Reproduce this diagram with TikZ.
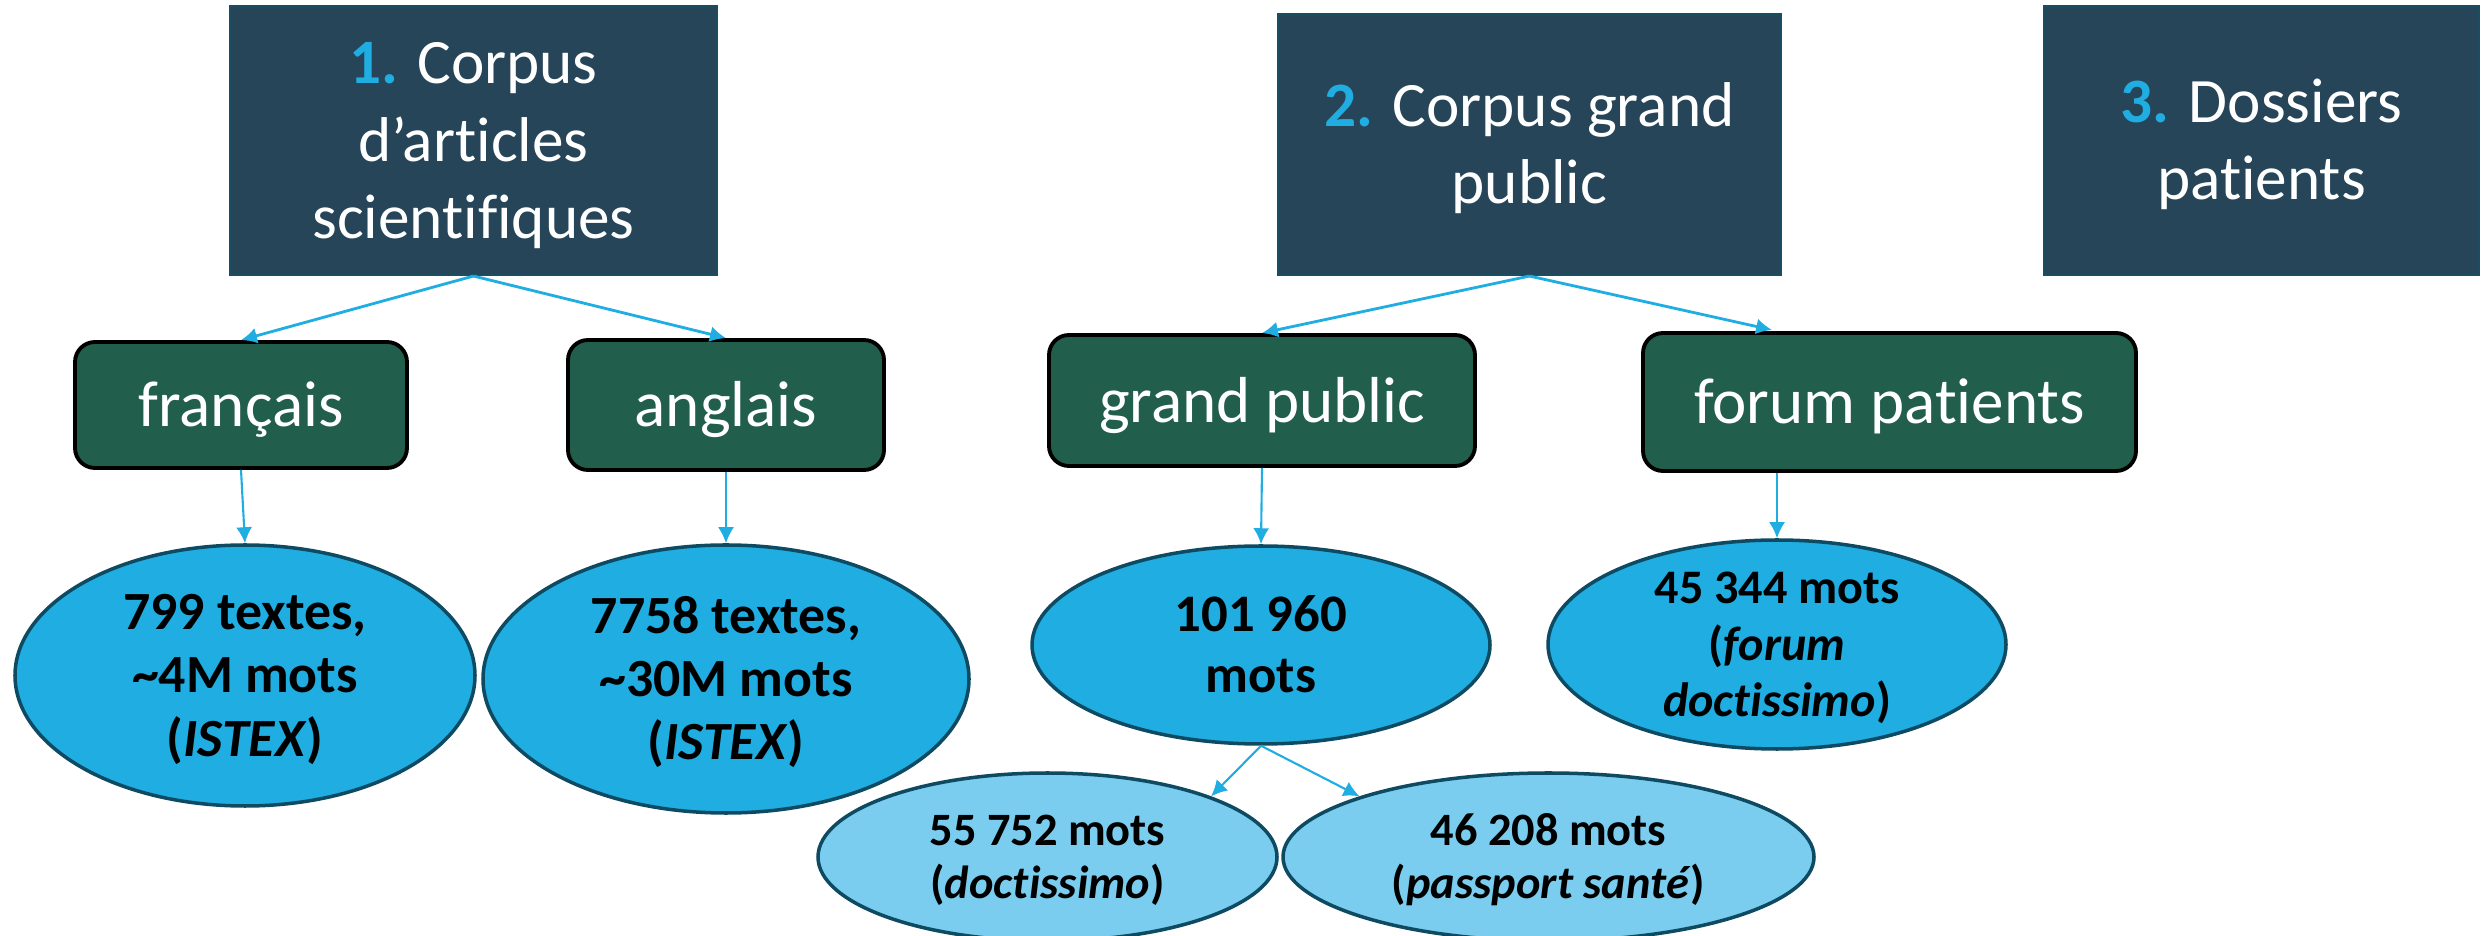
\documentclass[tikz,border=0pt]{standalone}
\usepackage{fontspec}
\setmainfont{Carlito}[Ligatures=CommonOff]
\usepackage{tikz}
\usetikzlibrary{arrows.meta, shapes.geometric}
\definecolor{SlateBlue}{HTML}{264559}
\definecolor{SlateEdge}{HTML}{1B4D62}
\definecolor{ForestGreen}{HTML}{225E4C}
\definecolor{SkyBlue}{HTML}{1FADE2}
\definecolor{PaleBlue}{HTML}{7ACDEE}
\definecolor{DeepTeal}{HTML}{0E4B63}
% struts: keep the lines a bit below the middle
\newcommand{\topline}{\rule{0pt}{0.95em}}
\newcommand{\lastline}{\rule[-0.3em]{0pt}{0.3em}}

\begin{document}
\begin{tikzpicture}[>={Latex[length=0.16cm, width=0.16cm]},
        corpus/.style={rectangle, fill=SlateBlue, draw=SlateEdge, line width=0.6pt, text=white, align=center, inner sep=0pt, font=\fontsize{18}{22}\selectfont},
        lang/.style={rectangle, rounded corners=0.2cm, fill=ForestGreen, draw=black, line width=1.1pt, text=white, inner sep=0pt, font=\fontsize{18.5}{22}\selectfont, text height=14pt, text depth=1.6pt},
        count/.style={ellipse, fill=SkyBlue, draw=DeepTeal, line width=1pt, align=center, inner xsep=0pt, inner ysep=-3mm, font=\bfseries\fontsize{15.3}{18}\selectfont},
        subcount/.style={count, fill=PaleBlue, font=\bfseries\fontsize{13.2}{15}\selectfont},
        link/.style={->, SkyBlue, line width=0.8pt},
        thinlink/.style={->, SkyBlue, line width=0.6pt}]
        \useasboundingbox (0,0) rectangle (24.88,-9.36);

        % Corpus boxes
        \node[corpus, minimum width=4.87cm, minimum height=2.69cm] (c1) at (4.735,-1.405) {\topline\textcolor{SkyBlue}{\textbf{1.}} Corpus\\d’articles\\scientifiques\lastline};
        \node[corpus, minimum width=5.03cm, minimum height=2.61cm] (c2) at (15.295,-1.445) {\topline\textcolor{SkyBlue}{\textbf{2.}} Corpus grand\\public\lastline};
        \node[corpus, minimum width=4.35cm, minimum height=2.69cm] (c3) at (22.615,-1.405) {\topline\textcolor{SkyBlue}{\textbf{3.}} Dossiers\\patients\lastline};

        % Sub-corpora
        \node[lang, minimum width=3.32cm, minimum height=1.26cm] (fr) at (2.41,-4.05) {français};
        \node[lang, minimum width=3.16cm, minimum height=1.30cm] (en) at (7.26,-4.05) {anglais};
        \node[lang, minimum width=4.26cm, minimum height=1.31cm] (gp) at (12.62,-4.005) {grand public};
        \node[lang, minimum width=4.93cm, minimum height=1.38cm] (fp) at (18.895,-4.02) {forum patients};

        % Sizes
        \node[count, minimum width=4.6cm, minimum height=2.61cm] (e1) at (2.45,-6.755) {\topline 799 textes,\\\textasciitilde4M mots\\(\textit{ISTEX})\lastline};
        \node[count, minimum width=4.86cm, minimum height=2.68cm] (e2) at (7.26,-6.79) {\topline 7758 textes,\\\textasciitilde30M mots\\(\textit{ISTEX})\lastline};
        \node[count, minimum width=4.58cm, minimum height=1.98cm, font=\bfseries\fontsize{15}{17.5}\selectfont] (e3) at (12.61,-6.45) {\topline 101 960\\mots\lastline};
        \node[count, minimum width=4.58cm, minimum height=2.09cm, font=\bfseries\fontsize{13.7}{16}\selectfont] (e4) at (17.77,-6.445) {\topline 45 344 mots\\(\textit{forum}\\\textit{doctissimo})\lastline};
        \node[subcount, minimum width=4.59cm, minimum height=1.68cm] (e5) at (10.475,-8.57) {\topline 55 752 mots\\(\textit{doctissimo})\lastline};
        \node[subcount, minimum width=5.31cm, minimum height=1.68cm] (e6) at (15.485,-8.57) {\topline 46 208 mots\\(\textit{passport santé})\lastline};

        % Arrows
        \draw[link] (c1.south) -- (fr.north);
        \draw[link] (c1.south) -- (en.north);
        \draw[link] (c2.south) -- (gp.north);
        \draw[link, shorten >=0.05cm] (c2.south) -- (fp.north -| e4.north);
        \draw[thinlink] (fr.south) -- (e1.north);
        \draw[thinlink] (en.south) -- (e2.north);
        \draw[thinlink] (gp.south) -- (e3.north);
        \draw[thinlink] (fp.south -| e4.north) -- (e4.north);
        \draw[thinlink] (e3.south) -- (e5.north east);
        \draw[thinlink] (e3.south) -- (e6.north west);
    \end{tikzpicture}
\end{document}
